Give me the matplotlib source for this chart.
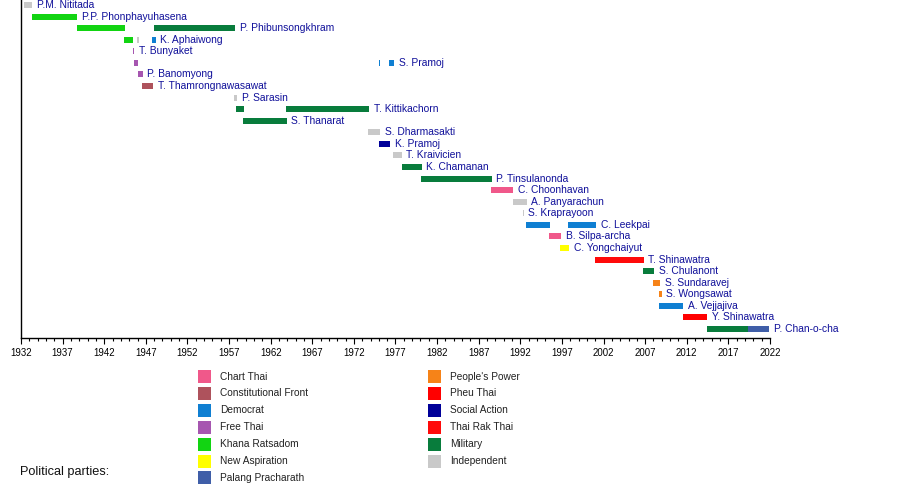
import matplotlib
matplotlib.use("Agg")
import matplotlib.pyplot as plt
from matplotlib.patches import Rectangle
from matplotlib.ticker import MultipleLocator

plt.rcParams["font.family"] = ["Liberation Sans", "DejaVu Sans"]

# ---------------------------------------------------------------------------
# data
# ---------------------------------------------------------------------------
party_names = [
    "Chart Thai", "Constitutional Front", "Democrat", "Free Thai",
    "Khana Ratsadorn", "New Aspiration", "Palang Pracharath",
    "People's Power", "Pheu Thai", "Social Action", "Thai Rak Thai",
    "Military", "Independent",
]
party_labels = [
    "Chart Thai", "Constitutional Front", "Democrat", "Free Thai",
    "Khana Ratsadom", "New Aspiration", "Palang Pracharath",
    "People's Power", "Pheu Thai", "Social Action", "Thai Rak Thai",
    "Military", "Independent",
]
party_colors = [
    "#f0588a", "#ae525c", "#0f7fd2", "#a656b0",
    "#12d412", "#ffff00", "#3f5ea8",
    "#f68318", "#ff0000", "#000099", "#ff0a0a",
    "#087c3c", "#c9c9c9",
]

pm_names = [
    "P.M. Nititada", "P.P. Phonphayuhasena", "P. Phibunsongkhram",
    "K. Aphaiwong", "T. Bunyaket", "S. Pramoj", "P. Banomyong",
    "T. Thamrongnawasawat", "P. Sarasin", "T. Kittikachorn", "S. Thanarat",
    "S. Dharmasakti", "K. Pramoj", "T. Kraivicien", "K. Chamanan",
    "P. Tinsulanonda", "C. Choonhavan", "A. Panyarachun", "S. Kraprayoon",
    "C. Leekpai", "B. Silpa-archa", "C. Yongchaiyut", "T. Shinawatra",
    "S. Chulanont", "S. Sundaravej", "S. Wongsawat", "A. Vejjajiva",
    "Y. Shinawatra", "P. Chan-o-cha",
]

# one entry per term: row index into pm_names, start, end, party
term_row = [0, 1, 2, 2, 3, 3, 3, 4, 5, 5, 5, 6, 7, 8, 9, 9, 10,
            11, 12, 13, 14, 15, 16, 17, 17, 18, 19, 19, 20, 21, 22,
            23, 24, 25, 26, 27, 28, 28]
term_start = [1932.40, 1933.32, 1938.73, 1947.99, 1944.38, 1945.94, 1947.78,
              1945.46, 1945.58, 1975.07, 1976.27, 1946.10, 1946.54, 1957.64,
              1957.84, 1963.85, 1958.68, 1973.74, 1975.07, 1976.75, 1977.83,
              1980.11, 1988.53, 1991.13, 1992.40, 1992.27, 1992.70, 1997.78,
              1995.46, 1996.78, 2000.99, 2006.68, 2007.96, 2008.72, 2008.72,
              2011.57, 2014.37, 2019.38]
term_end = [1933.36, 1938.77, 1944.50, 1957.72, 1945.50, 1946.18, 1948.19,
            1945.62, 1946.03, 1975.17, 1976.83, 1946.63, 1947.90, 1957.96,
            1958.80, 1973.83, 1963.93, 1975.15, 1976.35, 1977.76, 1980.16,
            1988.57, 1991.13, 1992.40, 1992.78, 1992.42, 1995.58, 2001.11,
            1996.90, 1997.90, 2006.80, 2008.08, 2008.80, 2009.01, 2011.60,
            2014.42, 2019.38, 2021.90]
term_party = [
    "Independent", "Khana Ratsadorn", "Khana Ratsadorn", "Military",
    "Khana Ratsadorn", "Independent", "Democrat",
    "Free Thai", "Free Thai", "Democrat", "Democrat", "Free Thai",
    "Constitutional Front", "Independent", "Military", "Military", "Military",
    "Independent", "Social Action", "Independent", "Military", "Military",
    "Chart Thai", "Independent", "Independent", "Independent",
    "Democrat", "Democrat", "Chart Thai", "New Aspiration", "Thai Rak Thai",
    "Military", "People's Power", "People's Power", "Democrat", "Pheu Thai",
    "Military", "Palang Pracharath",
]

year_min, year_max = 1932, 2022

# ---------------------------------------------------------------------------
# figure
# ---------------------------------------------------------------------------
W, H = 900, 487
fig = plt.figure(figsize=(W / 100, H / 100), dpi=100)

ax_left, ax_right, ax_top, ax_bottom = 21, 770, 0, 338
ax = fig.add_axes([ax_left / W, 1 - ax_bottom / H,
                   (ax_right - ax_left) / W, (ax_bottom - ax_top) / H])

row_step = 11.57
ax.set_xlim(year_min, year_max)
ax.set_ylim((ax_bottom - 5) / row_step, -5 / row_step)

colour_of = dict(zip(party_names, party_colors))
bar_h = 6 / row_step
for r, s, e, p in zip(term_row, term_start, term_end, term_party):
    ax.barh(r, e - s, left=s, height=bar_h, color=colour_of[p],
            linewidth=0)

# name label to the right of each row's last term
for i, name in enumerate(pm_names):
    last = max(e for r, e in zip(term_row, term_end) if r == i)
    ax.annotate(name, (last, i), xytext=(3.3, 0), textcoords="offset points",
                va="center", ha="left", fontsize=7.4, color="#10109a")

for side in ("top", "right"):
    ax.spines[side].set_visible(False)
for side in ("left", "bottom"):
    ax.spines[side].set_linewidth(1.0)
ax.set_yticks([])
ax.set_xticks(range(year_min, year_max + 1, 5))
ax.xaxis.set_minor_locator(MultipleLocator(1))
ax.tick_params(axis="x", which="major", length=4, width=0.8,
               labelsize=6.9, pad=3.3)
ax.tick_params(axis="x", which="minor", length=2.2, width=0.8)

# ---------------------------------------------------------------------------
# legend
# ---------------------------------------------------------------------------
col_x = [198, 428]
leg_top, leg_step, sq = 370, 16.9, 13
for k, (lab, col) in enumerate(zip(party_labels, party_colors)):
    c, r = divmod(k, 7)
    x0 = col_x[c]
    y0 = leg_top + r * leg_step
    fig.add_artist(Rectangle((x0 / W, 1 - (y0 + sq) / H), sq / W, sq / H,
                             transform=fig.transFigure, color=col,
                             linewidth=0))
    fig.text((x0 + 22.5) / W, 1 - (y0 + sq / 2) / H, lab, fontsize=7.3,
             va="center", ha="left", color="#222222")

fig.text(20.5 / W, 1 - 472 / H, "Political parties:", fontsize=9.2,
         va="center", ha="left", color="#111111")

fig.savefig("out.png", dpi=100)
